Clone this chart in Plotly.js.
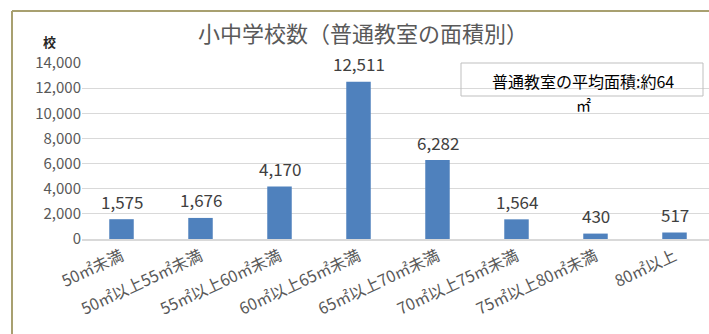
<!DOCTYPE html>
<html><head><meta charset="utf-8">
<script src="https://cdn.plot.ly/plotly-3.0.1.min.js"></script>
<style>html,body{margin:0;padding:0;overflow:hidden;background:#fff}</style>
</head><body>
<div id="chart" style="width:714px;height:334px"></div>
<script>
const categories = ["50㎡未満","50㎡以上55㎡未満","55㎡以上60㎡未満","60㎡以上65㎡未満","65㎡以上70㎡未満","70㎡以上75㎡未満","75㎡以上80㎡未満","80㎡以上"];
const schools = [1575, 1676, 4170, 12511, 6282, 1564, 430, 517];
const yTicks = [0, 2000, 4000, 6000, 8000, 10000, 12000, 14000];
const yTickText = ["0","2,000","4,000","6,000","8,000","10,000","12,000","14,000"];
const chartTitle = "小中学校数（普通教室の面積別）";
const yUnit = "校";
const noteLine1 = "普通教室の平均面積:約64";
const noteLine2 = "㎡";

const font = "'Noto Sans CJK JP', 'Noto Sans', sans-serif";
const W = 714, H = 334, mL = 82, mR = 0, mT = 63, mB = 95;
const pw = W - mL - mR, ph = H - mT - mB;
const px = x => (x - mL) / pw;      // pixel -> paper x
const py = y => (H - mB - y) / ph;  // pixel -> paper y

const trace = {
  type: "bar", x: categories, y: schools,
  marker: {color: "#4f81bd"}, hoverinfo: "skip"
};

const labels = categories.map((c, i) => ({
  x: c, y: schools[i], xref: "x", yref: "y",
  text: schools[i].toLocaleString("en-US"), showarrow: false,
  yanchor: "middle", yshift: 18,
  font: {family: font, size: 17, color: "#404040"}
}));

const layout = {
  width: W, height: H,
  margin: {l: mL, r: mR, t: mT, b: mB, autoexpand: false},
  paper_bgcolor: "#fff", plot_bgcolor: "#fff",
  bargap: 0.69, showlegend: false,
  title: {text: chartTitle, xref: "container", x: 363 / W, xanchor: "center", yref: "container", y: 1 - 34 / H, yanchor: "middle",
          font: {family: font, size: 22, color: "#595959"}},
  xaxis: {type: "category", tickangle: -25, showgrid: false, showline: true, linecolor: "#d9d9d9", linewidth: 2,
          ticks: "", tickfont: {family: font, size: 16, color: "#595959"}, zeroline: false, fixedrange: true},
  yaxis: {range: [0, 14000], tickvals: yTicks, ticktext: yTickText, showgrid: true, gridcolor: "#d9d9d9", gridwidth: 1,
          zeroline: false, showline: false, ticks: "", ticklen: 0,
          tickfont: {family: font, size: 15, color: "#595959"}, fixedrange: true},
  annotations: labels.concat([
    {xref: "paper", yref: "paper", x: px(49), y: py(42), text: "<b>" + yUnit + "</b>", showarrow: false,
     xanchor: "center", yanchor: "middle", font: {family: font, size: 13, color: "#262626"}},
    {xref: "paper", yref: "paper", x: px(583), y: py(81), text: noteLine1, showarrow: false,
     xanchor: "center", yanchor: "middle", align: "center",
     font: {family: font, size: 16, color: "#000"}},
    {xref: "paper", yref: "paper", x: px(583), y: py(104), text: noteLine2, showarrow: false,
     xanchor: "center", yanchor: "middle", align: "center",
     font: {family: font, size: 15, color: "#000"}}
  ]),
  shapes: [
    {type: "line", xref: "paper", yref: "paper", x0: px(12), x1: px(714), y0: py(11), y1: py(11),
     line: {color: "#a8a070", width: 2}},
    {type: "line", xref: "paper", yref: "paper", x0: px(12), x1: px(12), y0: py(11), y1: py(340),
     line: {color: "#a8a070", width: 2}},
    {type: "rect", xref: "paper", yref: "paper", x0: px(461), x1: px(703), y0: py(63), y1: py(96),
     line: {color: "#bfbfbf", width: 1}, fillcolor: "rgba(255,255,255,0)"}
  ]
};

Plotly.newPlot("chart", [trace], layout, {displayModeBar: false, staticPlot: true});
</script>
</body></html>
